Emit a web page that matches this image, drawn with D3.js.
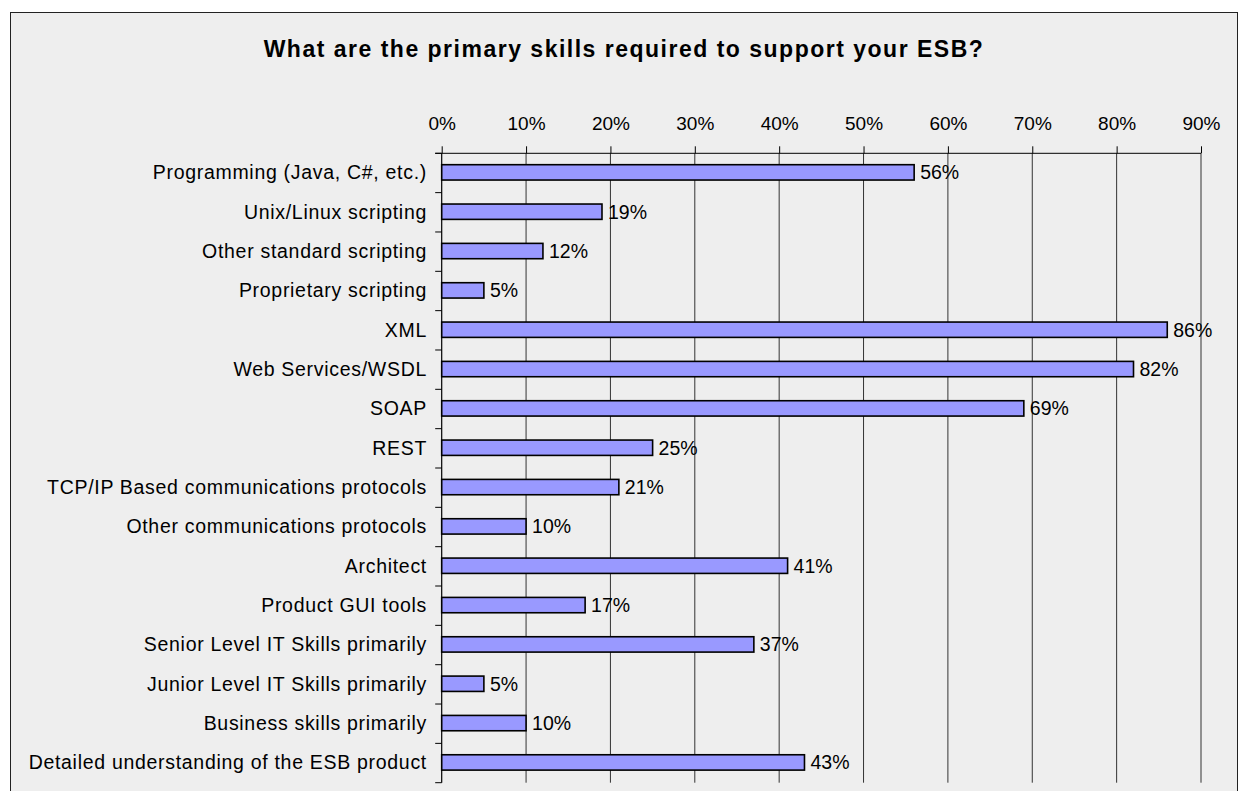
<!DOCTYPE html>
<html>
<head>
<meta charset="utf-8">
<script src="https://cdn.jsdelivr.net/npm/d3@7"></script>
<style>
  html, body { margin: 0; padding: 0; background: #ffffff; }
  svg { display: block; }
  text { font-family: "Liberation Sans", Arial, sans-serif; fill: #000; }
</style>
</head>
<body>
<svg id="chart" width="1239" height="791"></svg>
<script>
// Survey answers: share of respondents naming each skill
const categories = [
  "Programming (Java, C#, etc.)",
  "Unix/Linux scripting",
  "Other standard scripting",
  "Proprietary scripting",
  "XML",
  "Web Services/WSDL",
  "SOAP",
  "REST",
  "TCP/IP Based communications protocols",
  "Other communications protocols",
  "Architect",
  "Product GUI tools",
  "Senior Level IT Skills primarily",
  "Junior Level IT Skills primarily",
  "Business skills primarily",
  "Detailed understanding of the ESB product"
];
const values = [56, 19, 12, 5, 86, 82, 69, 25, 21, 10, 41, 17, 37, 5, 10, 43];
const tickValues = [0, 10, 20, 30, 40, 50, 60, 70, 80, 90];
const title = "What are the primary skills required to support your ESB?";

const svg = d3.select("#chart");

// chart frame
svg.append("rect")
  .attr("x", 10.5).attr("y", 12.5)
  .attr("width", 1227).attr("height", 800)
  .attr("fill", "#eeeeee")
  .attr("stroke", "#222").attr("stroke-width", 1);

svg.append("text")
  .attr("x", 624).attr("y", 57)
  .attr("text-anchor", "middle")
  .style("font-size", "23px")
  .style("font-weight", "bold")
  .style("letter-spacing", "1.5px")
  .text(title);

const plot = { left: 441.7, right: 1201, top: 153.3, bottom: 782.7 };

const x = d3.scaleLinear().domain([0, 90]).range([plot.left, plot.right]);
const y = d3.scaleBand().domain(categories).range([plot.top, plot.bottom]);
const bw = y.bandwidth();
const barH = bw * 0.39;

// vertical gridlines
svg.append("g")
  .selectAll("line")
  .data(tickValues.slice(1))
  .join("line")
  .attr("x1", d => x(d)).attr("x2", d => x(d))
  .attr("y1", plot.top).attr("y2", plot.bottom)
  .attr("stroke", "#333").attr("stroke-width", 1);

// top value axis
const xAxis = svg.append("g")
  .attr("transform", `translate(0,${plot.top})`)
  .call(d3.axisTop(x).tickValues(tickValues).tickSize(7).tickPadding(16.3)
    .tickFormat(d => d + "%"));
xAxis.select(".domain").remove();
xAxis.selectAll(".tick line").attr("stroke", "#000");
xAxis.selectAll(".tick text")
  .style("font-size", "19px")
  .style("font-family", "'Liberation Sans', Arial, sans-serif")
  .attr("fill", "#000");

// axis line along the top, extended to the first category tick
svg.append("line")
  .attr("x1", plot.left - 6.5).attr("x2", plot.right)
  .attr("y1", plot.top).attr("y2", plot.top)
  .attr("stroke", "#000").attr("stroke-width", 1);

// category axis line and boundary ticks
svg.append("line")
  .attr("x1", plot.left).attr("x2", plot.left)
  .attr("y1", plot.top).attr("y2", plot.bottom)
  .attr("stroke", "#000").attr("stroke-width", 1.2);

const boundaries = categories.map(c => y(c)).concat([plot.bottom]);
svg.append("g")
  .selectAll("line")
  .data(boundaries)
  .join("line")
  .attr("x1", plot.left - 6.5).attr("x2", plot.left)
  .attr("y1", d => d).attr("y2", d => d)
  .attr("stroke", "#000").attr("stroke-width", 1);

// category labels
svg.append("g")
  .selectAll("text")
  .data(categories)
  .join("text")
  .attr("x", 427)
  .attr("y", d => y(d) + bw / 2 - 0.6)
  .attr("dy", "0.35em")
  .attr("text-anchor", "end")
  .style("font-size", "19.5px")
  .style("letter-spacing", "0.7px")
  .text(d => d);

const data = categories.map((c, i) => ({ c, v: values[i] }));

// bars
svg.append("g")
  .selectAll("rect")
  .data(data)
  .join("rect")
  .attr("x", x(0))
  .attr("y", d => y(d.c) + (bw - barH) / 2 - 0.6)
  .attr("width", d => x(d.v) - x(0))
  .attr("height", barH)
  .attr("fill", "#9999ff")
  .attr("stroke", "#000")
  .attr("stroke-width", 1.6);

// value labels
svg.append("g")
  .selectAll("text")
  .data(data)
  .join("text")
  .attr("x", d => x(d.v) + 6)
  .attr("y", d => y(d.c) + bw / 2 - 0.6)
  .attr("dy", "0.35em")
  .style("font-size", "19.5px")
  .text(d => d.v + "%");
</script>
</body>
</html>
